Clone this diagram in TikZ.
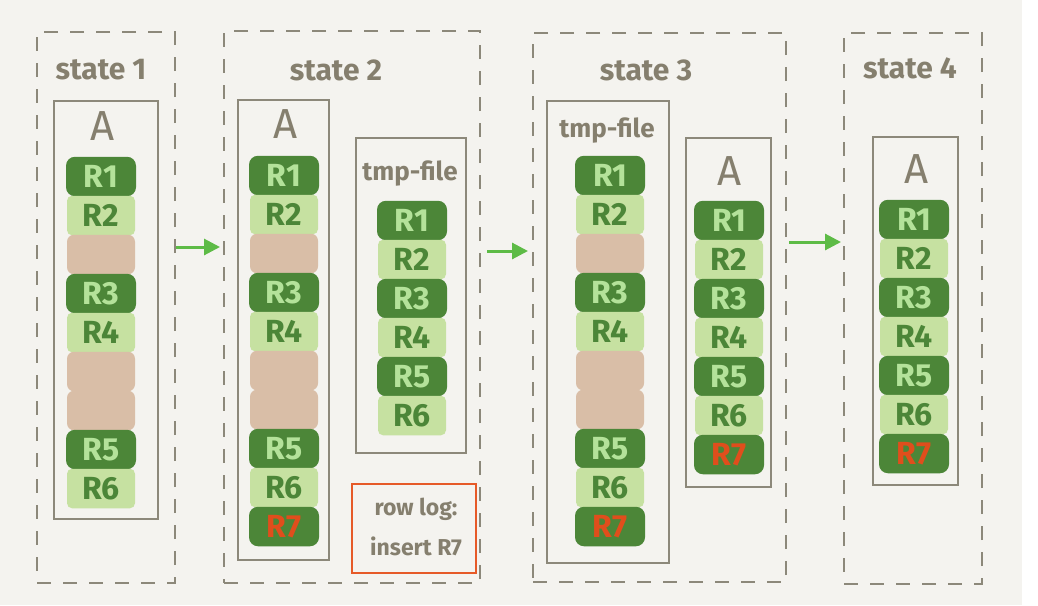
\documentclass[tikz,border=0pt]{standalone}
\usepackage{fontspec}
\setmainfont{Fira Sans}
\usetikzlibrary{arrows.meta}
\definecolor{paper}{HTML}{F4F3EF}
\definecolor{linegray}{HTML}{8C887A}
\definecolor{textgray}{HTML}{857F6E}
\definecolor{dkgreen}{HTML}{4C8638}
\definecolor{ltgreentext}{HTML}{B4E29A}
\definecolor{ltgreen}{HTML}{C6E1A1}
\definecolor{beige}{HTML}{D9BEA7}
\definecolor{redtext}{HTML}{E04E1C}
\definecolor{redbox}{HTML}{E65A28}
\definecolor{arrowgreen}{HTML}{5DBB46}
\newcommand\cellnode[5]{\node[cell,#2] (#1) at (#3,#4) {#5};}
\begin{document}
\begin{tikzpicture}[x=1pt,y=-1pt,
  statebox/.style={draw=linegray, line width=2.2pt, dash pattern=on 14pt off 12pt, inner sep=0pt, outer sep=0pt},
  tablebox/.style={draw=linegray, line width=2.2pt, inner sep=0pt, outer sep=0pt},
  logbox/.style={draw=redbox, line width=2pt, inner sep=0pt, outer sep=0pt},
  title/.style={text=textgray, font=\fontsize{30}{32}\selectfont\bfseries, inner sep=0pt},
  tname/.style={text=textgray, font=\fontsize{26}{28}\selectfont\bfseries, inner sep=0pt},
  aname/.style={text=textgray, font=\fontsize{42}{44}\selectfont, inner sep=0pt},
  logtext/.style={text=textgray, font=\fontsize{23}{40}\selectfont\bfseries, align=center, inner sep=0pt},
  cell/.style={minimum width=68pt, minimum height=39.5pt, inner sep=0pt, outer sep=0pt, font=\fontsize{32}{34}\selectfont\bfseries},
  dk/.style={fill=dkgreen, text=ltgreentext, rounded corners=9pt, minimum width=70pt},
  lt/.style={fill=ltgreen, text=dkgreen, rounded corners=5pt},
  bg/.style={fill=beige, rounded corners=7pt},
  rs/.style={fill=dkgreen, text=redtext, rounded corners=9pt, minimum width=70pt},
  flow/.style={draw=arrowgreen, line width=3pt, -{Triangle[length=16pt,width=16pt]}}
]
\useasboundingbox (0,0) rectangle (1038,605);
\fill[white] (0,0) rectangle (1038,605);
\fill[paper] (0,0) rectangle (1022,605);

% state frames
\node[statebox, minimum width=138pt, minimum height=551pt] (s1) at (106,307.5) {};
\node[statebox, minimum width=256pt, minimum height=552pt] (s2) at (352,307) {};
\node[statebox, minimum width=253pt, minimum height=549pt] (s3) at (659.5,307.5) {};
\node[statebox, minimum width=138pt, minimum height=551pt] (s4) at (913,308.5) {};

\node[title] (t1) at (101,70) {state 1};
\node[title] (t2) at (336,70) {state 2};
\node[title] (t3) at (646,70) {state 3};
\node[title] (t4) at (910,68) {state 4};

% table frames
\node[tablebox, minimum width=104pt, minimum height=418pt] (s1A) at (106,310) {};
\node[tablebox, minimum width=91pt, minimum height=460pt] (s2A) at (283.5,330) {};
\node[tablebox, minimum width=110pt, minimum height=315pt] (s2T) at (411,295.5) {};
\node[logbox, minimum width=124pt, minimum height=89pt] (s2L) at (414,528.5) {};
\node[tablebox, minimum width=122pt, minimum height=462pt] (s3T) at (608,332) {};
\node[tablebox, minimum width=85pt, minimum height=349pt] (s3A) at (728.5,312.5) {};
\node[tablebox, minimum width=85pt, minimum height=348pt] (s4A) at (915.5,311) {};

\node[aname] (n1A) at (103,126) {A};
\node[aname] (n2A) at (286,124) {A};
\node[tname] (n2T) at (410,174) {tmp-file};
\node[logtext] (n2L) at (416,527) {row log:\\insert R7};
\node[tname] (n3T) at (607,131) {tmp-file};
\node[aname] (n3A) at (730,171) {A};
\node[aname] (n4A) at (917,169) {A};

% state 1, table A
\cellnode{a1}{dk}{101}{176.5}{R1}
\cellnode{a2}{lt}{101}{215.5}{R2}
\cellnode{a3}{bg}{101}{254.5}{}
\cellnode{a4}{dk}{101}{293.5}{R3}
\cellnode{a5}{lt}{101}{332.5}{R4}
\cellnode{a6}{bg}{101}{371.5}{}
\cellnode{a7}{bg}{101}{410.5}{}
\cellnode{a8}{dk}{101}{449.5}{R5}
\cellnode{a9}{lt}{101}{488.5}{R6}

% state 2, table A
\cellnode{b1}{dk}{284}{175.5}{R1}
\cellnode{b2}{lt}{284}{214.5}{R2}
\cellnode{b3}{bg}{284}{253.5}{}
\cellnode{b4}{dk}{284}{292.5}{R3}
\cellnode{b5}{lt}{284}{331.5}{R4}
\cellnode{b6}{bg}{284}{370.5}{}
\cellnode{b7}{bg}{284}{409.5}{}
\cellnode{b8}{dk}{284}{448.5}{R5}
\cellnode{b9}{lt}{284}{487.5}{R6}
\cellnode{b10}{rs}{284}{526.5}{R7}

% state 2, tmp-file
\cellnode{c1}{dk}{412}{220.5}{R1}
\cellnode{c2}{lt}{412}{259.5}{R2}
\cellnode{c3}{dk}{412}{298.5}{R3}
\cellnode{c4}{lt}{412}{337.5}{R4}
\cellnode{c5}{dk}{412}{376.5}{R5}
\cellnode{c6}{lt}{412}{415.5}{R6}

% state 3, tmp-file
\cellnode{d1}{dk}{610}{175.5}{R1}
\cellnode{d2}{lt}{610}{214.5}{R2}
\cellnode{d3}{bg}{610}{253.5}{}
\cellnode{d4}{dk}{610}{292.5}{R3}
\cellnode{d5}{lt}{610}{331.5}{R4}
\cellnode{d6}{bg}{610}{370.5}{}
\cellnode{d7}{bg}{610}{409.5}{}
\cellnode{d8}{dk}{610}{448.5}{R5}
\cellnode{d9}{lt}{610}{487.5}{R6}
\cellnode{d10}{rs}{610}{526.5}{R7}

% state 3, table A
\cellnode{e1}{dk}{729}{220.5}{R1}
\cellnode{e2}{lt}{729}{259.5}{R2}
\cellnode{e3}{dk}{729}{298.5}{R3}
\cellnode{e4}{lt}{729}{337.5}{R4}
\cellnode{e5}{dk}{729}{376.5}{R5}
\cellnode{e6}{lt}{729}{415.5}{R6}
\cellnode{e7}{rs}{729}{454.5}{R7}

% state 4, table A
\cellnode{f1}{dk}{914}{219.5}{R1}
\cellnode{f2}{lt}{914}{258.5}{R2}
\cellnode{f3}{dk}{914}{297.5}{R3}
\cellnode{f4}{lt}{914}{336.5}{R4}
\cellnode{f5}{dk}{914}{375.5}{R5}
\cellnode{f6}{lt}{914}{414.5}{R6}
\cellnode{f7}{rs}{914}{453.5}{R7}

% arrows between states
\coordinate (a1s) at (176,247);
\coordinate (a1e) at (220,247);
\coordinate (a2s) at (487,251);
\coordinate (a2e) at (528,251);
\coordinate (a3s) at (789,242);
\coordinate (a3e) at (841,242);
\draw[flow] (a1s) -- (a1e);
\draw[flow] (a2s) -- (a2e);
\draw[flow] (a3s) -- (a3e);
\end{tikzpicture}
\end{document}
